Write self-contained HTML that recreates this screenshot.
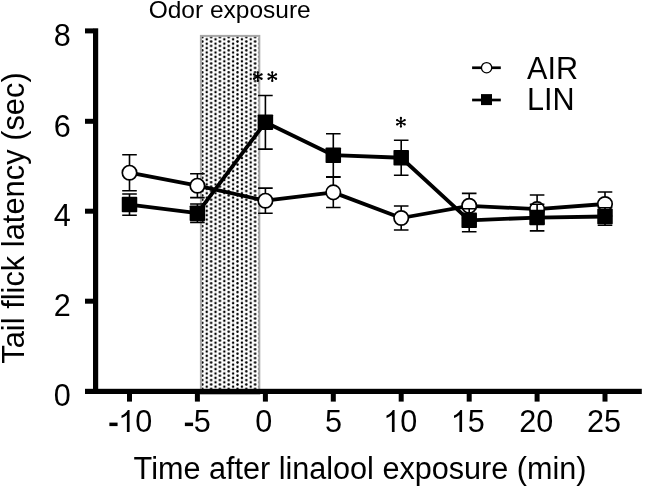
<!DOCTYPE html><html><head><meta charset="utf-8"><style>html,body{margin:0;padding:0;background:#fff;}svg{display:block;filter:grayscale(1);}text{font-family:"Liberation Sans", sans-serif;fill:#000;}</style></head><body>
<svg width="645" height="486" viewBox="0 0 645 486">
<defs><pattern id="dots" patternUnits="userSpaceOnUse" x="206.74" y="39.35" width="8.794" height="4.397"><circle cx="0" cy="0" r="1.25" fill="#000"/><circle cx="8.794" cy="0" r="1.25" fill="#000"/><circle cx="0" cy="4.397" r="1.25" fill="#000"/><circle cx="8.794" cy="4.397" r="1.25" fill="#000"/><circle cx="4.397" cy="2.1985" r="1.25" fill="#000"/></pattern></defs>
<rect width="645" height="486" fill="#fff"/>
<rect x="200.9" y="35.9" width="58.4" height="358" fill="url(#dots)" stroke="#a8a8a8" stroke-width="2"/>
<rect x="93" y="28.3" width="5.2" height="365.7" fill="#000"/>
<rect x="85" y="28.40" width="8.2" height="5" fill="#000"/>
<rect x="85" y="118.80" width="8.2" height="5" fill="#000"/>
<rect x="85" y="208.70" width="8.2" height="5" fill="#000"/>
<rect x="85" y="298.70" width="8.2" height="5" fill="#000"/>
<rect x="85" y="388.8" width="556.8" height="5.2" fill="#000"/>
<rect x="127.00" y="393" width="5" height="8.6" fill="#000"/>
<rect x="194.90" y="393" width="5" height="8.6" fill="#000"/>
<rect x="262.90" y="393" width="5" height="8.6" fill="#000"/>
<rect x="330.80" y="393" width="5" height="8.6" fill="#000"/>
<rect x="398.70" y="393" width="5" height="8.6" fill="#000"/>
<rect x="466.70" y="393" width="5" height="8.6" fill="#000"/>
<rect x="534.60" y="393" width="5" height="8.6" fill="#000"/>
<rect x="602.50" y="393" width="5" height="8.6" fill="#000"/>
<text x="70.8" y="46.1" font-size="30.6" text-anchor="end">8</text>
<text x="70.8" y="137.2" font-size="30.6" text-anchor="end">6</text>
<text x="70.8" y="226.3" font-size="30.6" text-anchor="end">4</text>
<text x="70.8" y="316.4" font-size="30.6" text-anchor="end">2</text>
<text x="70.8" y="405.7" font-size="30.6" text-anchor="end">0</text>
<rect x="109.37" y="422.60" width="8.2" height="3.5" fill="#000"/>
<path transform="translate(118.18,432.0) scale(0.01494,-0.01494)" d="M763 0L583 0L583 1147Q518 1085 412 1023Q306 961 222 930L222 1104Q373 1175 486 1276Q599 1377 646 1472L763 1472Z" fill="#000"/>
<text x="135.19" y="432.0" font-size="30.6">0</text>
<rect x="184.88" y="422.60" width="8.2" height="3.5" fill="#000"/>
<text x="193.69" y="432.0" font-size="30.6">5</text>
<text x="255.29" y="432.0" font-size="30.6">0</text>
<text x="325.09" y="432.0" font-size="30.6">5</text>
<path transform="translate(383.19,432.0) scale(0.01494,-0.01494)" d="M763 0L583 0L583 1147Q518 1085 412 1023Q306 961 222 930L222 1104Q373 1175 486 1276Q599 1377 646 1472L763 1472Z" fill="#000"/>
<text x="400.20" y="432.0" font-size="30.6">0</text>
<path transform="translate(450.69,432.0) scale(0.01494,-0.01494)" d="M763 0L583 0L583 1147Q518 1085 412 1023Q306 961 222 930L222 1104Q373 1175 486 1276Q599 1377 646 1472L763 1472Z" fill="#000"/>
<text x="467.70" y="432.0" font-size="30.6">5</text>
<text x="519.19" y="432.0" font-size="30.6">2</text>
<text x="536.20" y="432.0" font-size="30.6">0</text>
<text x="586.89" y="432.0" font-size="30.6">2</text>
<text x="603.90" y="432.0" font-size="30.6">5</text>
<text x="133.6" y="478.5" font-size="30.6">Time after linalool exposure (min)</text>
<text transform="translate(23.8,363.7) rotate(-90)" x="0" y="0" font-size="30.85">Tail flick latency (sec)</text>
<text x="148.7" y="18.2" font-size="24.5">Odor exposure</text>
<line x1="472.1" y1="67.75" x2="500.8" y2="67.75" stroke="#000" stroke-width="2.7"/>
<circle cx="486.6" cy="67.7" r="5.15" fill="#fff" stroke="#000" stroke-width="1.3"/>
<line x1="472.1" y1="100" x2="500.8" y2="100" stroke="#000" stroke-width="2.7"/>
<rect x="481" y="94.1" width="11" height="11" fill="#000"/>
<text x="527" y="79.2" font-size="30.6">AIR</text>
<text x="527" y="110.2" font-size="30.6">LIN</text>
<polyline points="129.5,172.70 197.4,185.70 265.4,200.70 333.3,192.35 401.2,218.00 469.2,205.80 537.1,209.10 605.0,204.00" fill="none" stroke="#000" stroke-width="3.8" stroke-linejoin="round"/>
<path d="M129.50 154.70V190.70M122.20 154.70h14.6M122.20 190.70h14.6" stroke="#000" stroke-width="1.6" fill="none"/>
<path d="M197.40 173.80V197.60M190.10 173.80h14.6M190.10 197.60h14.6" stroke="#000" stroke-width="1.6" fill="none"/>
<path d="M265.40 188.10V213.30M258.10 188.10h14.6M258.10 213.30h14.6" stroke="#000" stroke-width="1.6" fill="none"/>
<path d="M333.30 177.20V207.50M326.00 177.20h14.6M326.00 207.50h14.6" stroke="#000" stroke-width="1.6" fill="none"/>
<path d="M401.20 206.00V230.00M393.90 206.00h14.6M393.90 230.00h14.6" stroke="#000" stroke-width="1.6" fill="none"/>
<path d="M469.20 193.40V218.20M461.90 193.40h14.6M461.90 218.20h14.6" stroke="#000" stroke-width="1.6" fill="none"/>
<path d="M537.10 195.00V223.20M529.80 195.00h14.6M529.80 223.20h14.6" stroke="#000" stroke-width="1.6" fill="none"/>
<path d="M605.00 192.00V216.00M597.70 192.00h14.6M597.70 216.00h14.6" stroke="#000" stroke-width="1.6" fill="none"/>
<circle cx="129.50" cy="172.70" r="7.2" fill="#fff" stroke="#000" stroke-width="1.7"/>
<circle cx="197.40" cy="185.70" r="7.2" fill="#fff" stroke="#000" stroke-width="1.7"/>
<circle cx="265.40" cy="200.70" r="7.2" fill="#fff" stroke="#000" stroke-width="1.7"/>
<circle cx="333.30" cy="192.35" r="7.2" fill="#fff" stroke="#000" stroke-width="1.7"/>
<circle cx="401.20" cy="218.00" r="7.2" fill="#fff" stroke="#000" stroke-width="1.7"/>
<circle cx="469.20" cy="205.80" r="7.2" fill="#fff" stroke="#000" stroke-width="1.7"/>
<circle cx="537.10" cy="209.10" r="7.2" fill="#fff" stroke="#000" stroke-width="1.7"/>
<circle cx="605.00" cy="204.00" r="7.2" fill="#fff" stroke="#000" stroke-width="1.7"/>
<polyline points="129.5,204.60 197.4,213.20 265.4,122.30 333.3,155.20 401.2,157.75 469.2,220.30 537.1,217.60 605.0,216.50" fill="none" stroke="#000" stroke-width="3.8" stroke-linejoin="round"/>
<path d="M129.50 193.95V215.25M122.20 193.95h14.6M122.20 215.25h14.6" stroke="#000" stroke-width="1.6" fill="none"/>
<path d="M197.40 204.00V222.40M190.10 204.00h14.6M190.10 222.40h14.6" stroke="#000" stroke-width="1.6" fill="none"/>
<path d="M265.40 95.50V149.10M258.10 95.50h14.6M258.10 149.10h14.6" stroke="#000" stroke-width="1.6" fill="none"/>
<path d="M333.30 133.70V176.70M326.00 133.70h14.6M326.00 176.70h14.6" stroke="#000" stroke-width="1.6" fill="none"/>
<path d="M401.20 140.30V175.20M393.90 140.30h14.6M393.90 175.20h14.6" stroke="#000" stroke-width="1.6" fill="none"/>
<path d="M469.20 208.80V231.80M461.90 208.80h14.6M461.90 231.80h14.6" stroke="#000" stroke-width="1.6" fill="none"/>
<path d="M537.10 204.30V230.90M529.80 204.30h14.6M529.80 230.90h14.6" stroke="#000" stroke-width="1.6" fill="none"/>
<path d="M605.00 207.70V225.30M597.70 207.70h14.6M597.70 225.30h14.6" stroke="#000" stroke-width="1.6" fill="none"/>
<rect x="121.75" y="196.85" width="15.5" height="15.5" fill="#000" rx="0.8"/>
<rect x="189.65" y="205.45" width="15.5" height="15.5" fill="#000" rx="0.8"/>
<rect x="257.65" y="114.55" width="15.5" height="15.5" fill="#000" rx="0.8"/>
<rect x="325.55" y="147.45" width="15.5" height="15.5" fill="#000" rx="0.8"/>
<rect x="393.45" y="150.00" width="15.5" height="15.5" fill="#000" rx="0.8"/>
<rect x="461.45" y="212.55" width="15.5" height="15.5" fill="#000" rx="0.8"/>
<rect x="529.35" y="209.85" width="15.5" height="15.5" fill="#000" rx="0.8"/>
<rect x="597.25" y="208.75" width="15.5" height="15.5" fill="#000" rx="0.8"/>
<g fill="#000"><path d="M257.80 80.90L257.80 72.30M254.08 78.75L261.52 74.45M254.08 74.45L261.52 78.75" stroke="#000" stroke-width="1.5" stroke-linecap="round" fill="none"/><circle cx="257.80" cy="80.90" r="1.15"/><circle cx="257.80" cy="72.30" r="1.15"/><circle cx="254.08" cy="78.75" r="1.15"/><circle cx="261.52" cy="74.45" r="1.15"/><circle cx="254.08" cy="74.45" r="1.15"/><circle cx="261.52" cy="78.75" r="1.15"/><circle cx="257.8" cy="76.6" r="1.4"/></g>
<g fill="#000"><path d="M272.30 80.90L272.30 72.30M268.58 78.75L276.02 74.45M268.58 74.45L276.02 78.75" stroke="#000" stroke-width="1.5" stroke-linecap="round" fill="none"/><circle cx="272.30" cy="80.90" r="1.15"/><circle cx="272.30" cy="72.30" r="1.15"/><circle cx="268.58" cy="78.75" r="1.15"/><circle cx="276.02" cy="74.45" r="1.15"/><circle cx="268.58" cy="74.45" r="1.15"/><circle cx="276.02" cy="78.75" r="1.15"/><circle cx="272.3" cy="76.6" r="1.4"/></g>
<g fill="#000"><path d="M400.90 126.60L400.90 118.00M397.18 124.45L404.62 120.15M397.18 120.15L404.62 124.45" stroke="#000" stroke-width="1.5" stroke-linecap="round" fill="none"/><circle cx="400.90" cy="126.60" r="1.15"/><circle cx="400.90" cy="118.00" r="1.15"/><circle cx="397.18" cy="124.45" r="1.15"/><circle cx="404.62" cy="120.15" r="1.15"/><circle cx="397.18" cy="120.15" r="1.15"/><circle cx="404.62" cy="124.45" r="1.15"/><circle cx="400.9" cy="122.3" r="1.4"/></g>
</svg></body></html>
